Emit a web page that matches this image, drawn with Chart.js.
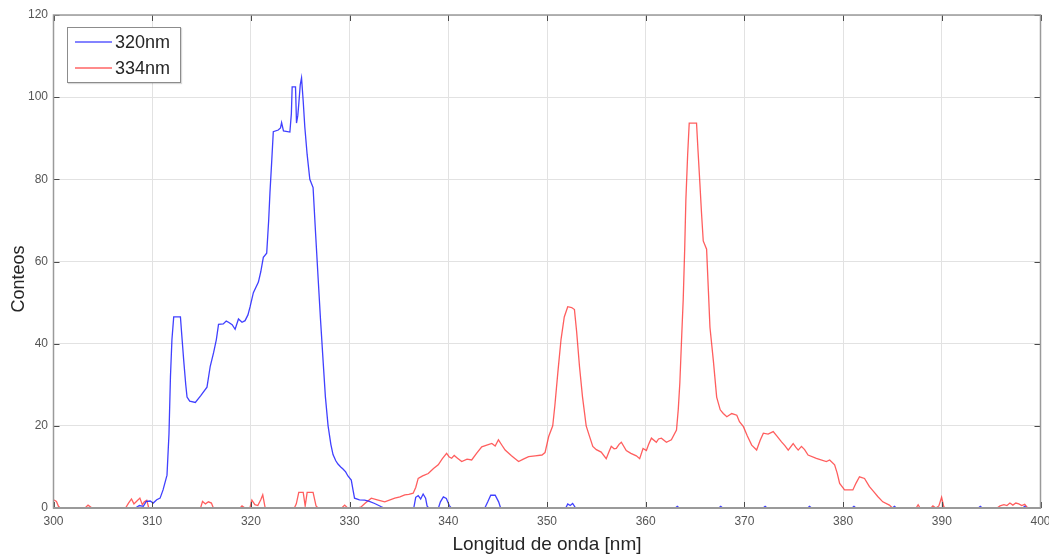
<!DOCTYPE html>
<html><head><meta charset="utf-8">
<script src="https://cdn.jsdelivr.net/npm/chart.js@4"></script>
<style>
html,body{margin:0;padding:0;background:#fff;}
#wrap{position:relative;width:1049px;height:556px;}
#legend{position:absolute;left:67px;top:27px;width:114px;height:56px;border:1px solid #8c8c8c;background:#fff;box-sizing:border-box;box-shadow:1px 1px 1px rgba(0,0,0,0.15);font-family:"Liberation Sans",Arial,sans-serif;font-size:18px;color:#262626;}
.item{position:absolute;left:0;width:112px;height:22px;}
.item .ln{position:absolute;left:7px;top:10px;width:37px;height:0;border-top:2px solid;}
.item .tx{position:absolute;left:47px;top:0;line-height:22px;}
</style>
</head><body>
<div id="wrap">
<canvas id="c" width="1049" height="556"></canvas>
<div id="legend"></div>
</div>
<script>
// ---- data ----
const seriesNames = ['320nm', '334nm'];
const seriesColors = ['rgba(30,30,255,0.85)', 'rgba(255,40,40,0.75)'];

const blueNm = [300,308.3,308.7,309.1,309.4,309.8,310.1,310.46,310.8,311.1,311.5,311.7,311.85,312.0,312.18,312.86,313.0,313.19,313.4,313.53,313.8,314.37,314.9,315.55,315.88,316.22,316.5,316.72,317.2,317.5,317.73,318.1,318.4,318.74,319.1,319.41,319.7,319.92,320.25,320.76,321.0,321.26,321.6,321.8,321.93,322.1,322.27,322.77,323.0,323.11,323.3,323.95,324.1,324.18,324.52,324.62,324.75,324.86,325.0,325.13,325.3,325.46,325.7,325.97,326.3,326.55,326.81,327.05,327.31,327.55,327.82,328.1,328.32,328.6,328.82,329.1,329.33,329.6,329.83,330.17,330.34,330.5,331.0,331.53,332.0,332.54,333.22,333.5,336.5,336.7,336.95,337.2,337.45,337.7,337.85,338.0,339.0,339.2,339.5,339.8,340.1,340.3,343.7,344.0,344.3,344.75,345.1,345.3,351.9,352.1,352.35,352.6,352.9,363.0,363.2,363.4,367.4,367.6,367.8,371.9,372.1,372.3,376.4,376.6,376.8,380.9,381.1,381.3,385.0,385.2,385.4,393.7,393.9,394.1,398.2,398.4,398.6,400];
const blueCounts = [0,0,0.6,0.4,1.6,1.7,1.2,2,2.4,4.4,8,18,32,41,46.5,46.5,42,36,30,27,26,25.7,27.3,29.4,34.5,37.8,41,44.7,44.8,45.5,45.2,44.6,43.5,46,45.2,45.6,47,49,52.4,55,57.5,61,62,70,76.7,84,91.6,92,92.5,93.8,91.8,91.5,96,102.5,102.5,93.7,95.5,98.6,103,104.7,99,92.8,86,80,78,67,56,46,36,27,20,15.5,13,11.5,10.7,10,9.5,8.8,7.8,6.8,4.5,2.4,2,1.9,1.6,1.1,0.3,0,0,2.6,3.0,2.2,3.4,2.4,0.5,0,0,1.5,2.7,2.3,0.6,0,0,1.5,3.1,3.1,1.5,0,0,1.0,0.6,1.1,0,0,0.4,0,0,0.4,0,0,0.4,0,0,0.4,0,0,0.4,0,0,0.4,0,0,0.4,0,0,0.4,0,0];

const redNm = [300.0,300.3,300.5,300.7,303.2,303.5,303.9,307.3,307.6,307.9,308.15,308.4,308.75,309.0,309.2,309.45,309.65,314.9,315.1,315.4,315.7,316.0,316.2,318.9,319.1,319.4,319.9,320.1,320.4,320.7,321.0,321.2,321.45,324.4,324.6,324.85,325.3,325.5,325.7,326.3,326.6,326.8,329.2,329.5,329.8,330.8,331.19,331.6,332.2,332.8,333.56,334.1,334.58,335.1,335.59,336.0,336.44,336.7,336.95,337.4,337.97,338.5,338.98,339.4,339.83,340.1,340.34,340.6,340.9,341.36,341.9,342.37,342.9,343.39,343.9,344.41,344.75,345.08,345.4,345.76,346.4,347.12,347.6,348.14,348.8,349.49,349.8,350.17,350.58,350.8,351.1,351.42,351.75,352.1,352.5,352.78,353.0,353.29,353.6,353.97,354.3,354.64,355.0,355.49,356.0,356.3,356.51,356.8,357.02,357.3,357.53,358.03,358.5,359.05,359.39,359.73,360.07,360.3,360.58,361.08,361.3,361.59,362.1,362.6,363.12,363.3,363.46,363.65,363.8,363.95,364.07,364.25,364.41,365.15,365.3,365.49,365.65,365.83,366.17,366.35,366.51,366.85,367.19,367.55,367.86,368.22,368.72,369.23,369.5,369.9,370.3,370.74,371.24,371.6,371.92,372.4,372.92,373.3,373.76,374.1,374.44,374.94,375.2,375.45,375.78,376.1,376.45,377.29,378.3,378.64,379.14,379.4,379.65,380.15,380.99,381.3,381.66,382.17,382.67,383.1,383.51,384.02,384.69,385.0,387.4,387.6,387.8,388.9,389.1,389.4,389.7,389.98,390.2,390.4,395.6,395.9,396.3,396.6,396.9,397.2,397.5,397.8,398.1,398.4,398.7,400];
const redCounts = [2,1.6,0.4,0,0,0.7,0,0,1.2,2.2,1,1.6,2.4,0.8,1.5,1.9,0,0,1.6,1.0,1.5,1.2,0,0,0.5,0,0,1.9,0.8,0.6,2.0,3.2,0,0,1.0,3.8,3.8,0.5,3.8,3.8,0.5,0,0,0.7,0,0,0.3,1.2,2.4,2.0,1.5,2.0,2.4,2.7,3.2,3.3,3.6,5,7.2,7.8,8.4,9.6,10.5,12,13.3,12.4,12.1,12.8,12.2,11.3,11.9,11.7,13.4,14.9,15.3,15.7,15.1,16.6,15.4,14.1,12.7,11.3,11.9,12.5,12.7,12.9,13.5,17.4,20,25,33,41,46.5,49,48.8,48.3,43,34.5,27,20,17.5,15,14.2,13.6,12,13.8,15,14.4,14.5,15.5,16,14,13.3,12.7,12,14.5,14,15.5,17,16,16.8,17,16,16.6,19,24,30.5,42,50.7,63,75,86,93.7,93.7,87,79,72,65,63,53,44,36,27,23.9,23,22.2,23,22.6,21,19.8,17.5,15.3,14.1,16.5,18.2,18,18.6,17.5,16.1,15.2,14.1,15.7,14.8,14.1,15.0,14.2,12.9,12.1,11.3,11.7,10.5,8.5,6.0,4.4,4.4,6,7.6,7.2,5.2,4,2.8,1.5,0.7,0,0,0.8,0,0,0.5,0,0.5,2.6,0.3,0,0,0.5,0.8,0.6,1.2,0.7,1.2,1.0,0.6,0.9,0,0];

const xLimits = [300, 400];
const xStep = 10;
const yLimits = [0, 120];
const yStep = 20;
const xTitle = 'Longitud de onda [nm]';
const yTitle = 'Conteos';

// ---- chart ----
const FONT = '"Liberation Sans", Arial, Helvetica, sans-serif';
const toPts = (xs, ys) => xs.map((v, i) => ({x: v, y: ys[i]}));

const framePlugin = {
  id: 'frame',
  afterDatasetsDraw(chart) {
    const {ctx, chartArea: a, scales: {x, y}} = chart;
    ctx.save();
    ctx.lineWidth = 1;
    ctx.strokeStyle = '#4a4a4a';
    const tl = 6;
    const seg = (x1, y1, x2, y2) => { ctx.beginPath(); ctx.moveTo(x1, y1); ctx.lineTo(x2, y2); ctx.stroke(); };
    x.ticks.forEach(t => {
      const p = Math.round(x.getPixelForValue(t.value)) + 0.5;
      seg(p, a.bottom, p, a.bottom - tl);
      seg(p, a.top, p, a.top + tl);
    });
    y.ticks.forEach(t => {
      const p = Math.round(y.getPixelForValue(t.value)) + 0.5;
      seg(a.left, p, a.left + tl, p);
      seg(a.right, p, a.right - tl, p);
    });
    ctx.strokeStyle = '#9a9a9a';
    ctx.lineWidth = 1.5;
    ctx.strokeRect(a.left, a.top, a.right - a.left, a.bottom - a.top);
    ctx.lineWidth = 2.2;
    seg(a.left, a.bottom, a.right, a.bottom);
    // y axis title (MATLAB places it slightly below the axis middle here)
    ctx.save();
    ctx.translate(19, 279);
    ctx.rotate(-Math.PI / 2);
    ctx.fillStyle = '#262626';
    ctx.font = '18px ' + FONT;
    ctx.textAlign = 'center';
    ctx.textBaseline = 'middle';
    ctx.fillText(yTitle, 0, 0);
    ctx.restore();
    ctx.restore();
  }
};

const chart = new Chart(document.getElementById('c'), {
  type: 'line',
  data: {
    datasets: [
      {label: seriesNames[0], data: toPts(blueNm, blueCounts), borderColor: seriesColors[0], borderWidth: 1.3, pointRadius: 0, tension: 0, fill: false},
      {label: seriesNames[1], data: toPts(redNm, redCounts), borderColor: seriesColors[1], borderWidth: 1.3, pointRadius: 0, tension: 0, fill: false}
    ]
  },
  options: {
    responsive: false,
    animation: false,
    layout: {padding: {top: 15, right: 8.5, left: 0, bottom: 0}},
    plugins: {legend: {display: false}, tooltip: {enabled: false}},
    scales: {
      x: {
        type: 'linear', min: xLimits[0], max: xLimits[1],
        ticks: {stepSize: xStep, color: '#555555', font: {family: FONT, size: 12}, padding: 6, maxRotation: 0, autoSkip: false},
        grid: {color: '#e2e2e2', lineWidth: 1, drawTicks: false},
        border: {display: false},
        title: {display: true, text: xTitle, color: '#262626', font: {family: FONT, size: 19}, padding: {top: 0, bottom: 0}},
        afterFit(s) { s.height = 48; s.paddingLeft = 0; s.paddingRight = 0; }
      },
      y: {
        type: 'linear', min: yLimits[0], max: yLimits[1],
        ticks: {stepSize: yStep, color: '#555555', font: {family: FONT, size: 12}, padding: 5.5},
        grid: {color: '#e2e2e2', lineWidth: 1, drawTicks: false},
        border: {display: false},
        title: {display: false},
        afterFit(s) { s.width = 53.5; s.paddingTop = 0; s.paddingBottom = 0; }
      }
    }
  },
  plugins: [framePlugin]
});

// HTML legend built from dataset labels
const lg = document.getElementById('legend');
chart.data.datasets.forEach((d, i) => {
  const it = document.createElement('div');
  it.className = 'item';
  it.style.top = (3 + i * 26) + 'px';
  it.innerHTML = '<span class="ln"></span><span class="tx"></span>';
  it.querySelector('.ln').style.borderTopColor = i === 0 ? 'rgba(100,100,255,0.8)' : 'rgba(255,110,110,0.8)';
  it.querySelector('.tx').textContent = d.label;
  lg.appendChild(it);
});
</script>
</body></html>
